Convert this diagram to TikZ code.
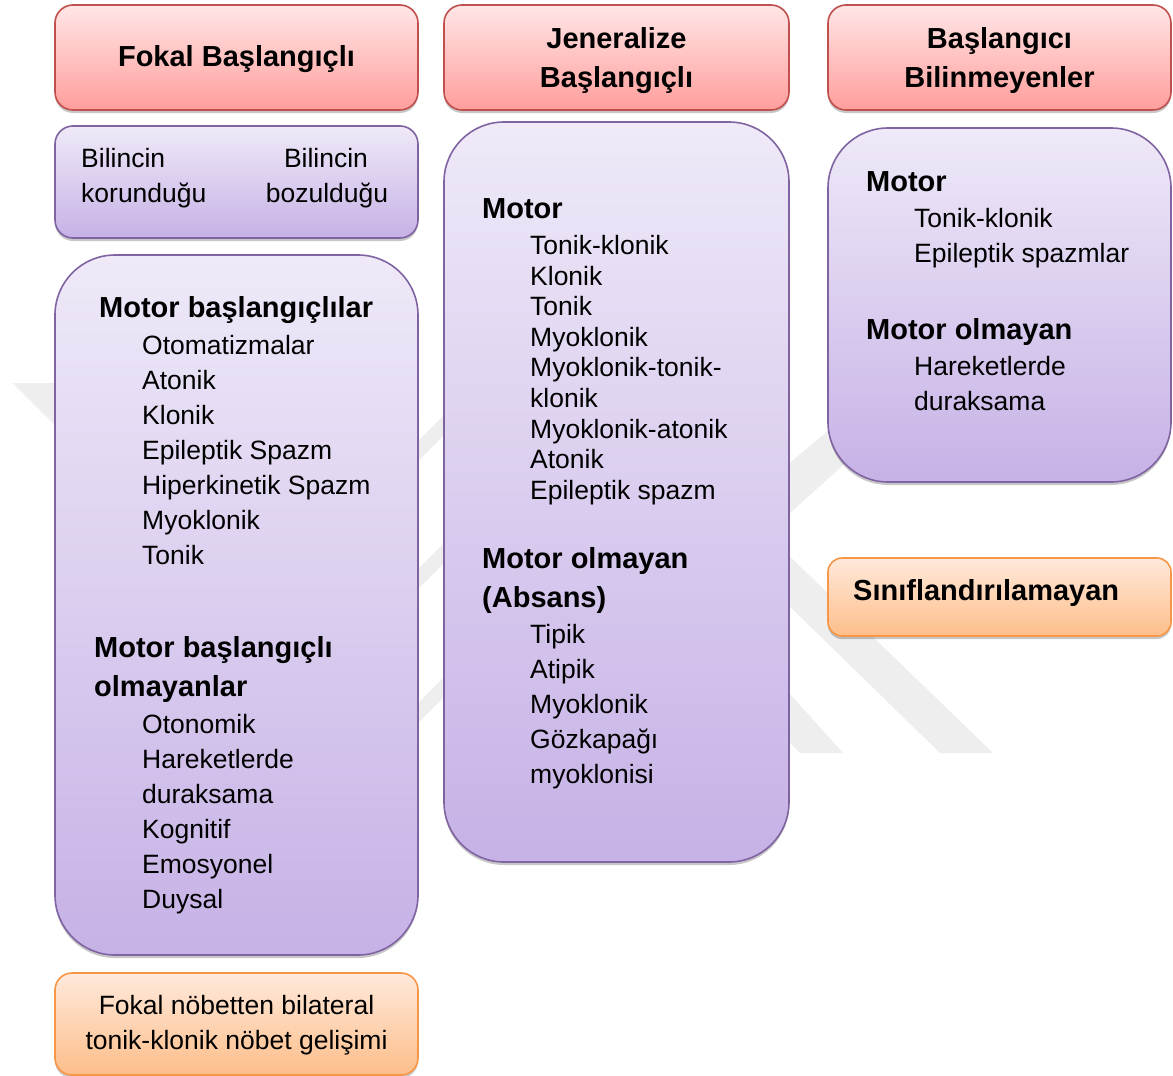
\documentclass[tikz,border=0pt]{standalone}
\usepackage{fontspec}
\setmainfont{Liberation Sans}
\usetikzlibrary{shadows}

\definecolor{redline}{HTML}{C0504D}
\definecolor{redtop}{HTML}{FFE6E6}
\definecolor{redbot}{HTML}{FF9E9C}
\definecolor{purline}{HTML}{8064A2}
\definecolor{purtop}{HTML}{EFE9F8}
\definecolor{purbot}{HTML}{C6B2E6}
\definecolor{orgline}{HTML}{F79646}
\definecolor{orgtop}{HTML}{FFE9DB}
\definecolor{orgbot}{HTML}{FDBE8A}
\definecolor{wmark}{HTML}{EEEEEE}

\tikzset{
  card/.style={rectangle, inner sep=0pt, outer sep=0pt, line width=1.6pt,
    drop shadow={shadow xshift=0pt, shadow yshift=-3pt, opacity=0.22, fill=black}},
  hdrbox/.style={card, draw=redline, top color=redtop, bottom color=redbot, rounded corners=18pt},
  purbox/.style={card, draw=purline, top color=purtop, bottom color=purbot},
  orgbox/.style={card, draw=orgline, top color=orgtop, bottom color=orgbot},
  ttl/.style={font=\fontsize{29}{39}\selectfont\bfseries, inner sep=0pt, anchor=base},
  sec/.style={font=\fontsize{29}{39}\selectfont\bfseries, inner sep=0pt, anchor=base west},
  itm/.style={font=\fontsize{26.5}{35}\selectfont, inner sep=0pt, anchor=base west},
}

\begin{document}
\begin{tikzpicture}[x=1pt, y=-1pt]
\useasboundingbox[fill=white] (0,0) rectangle (1173,1076);

% faint background emblem
\fill[wmark] (13,383) -- (200,383) -- (200,570) -- cycle;
\fill[wmark] (410,449) -- (410,469) -- (452,427) -- (452,407) -- cycle;
\fill[wmark] (410,577) -- (410,597) -- (452,555) -- (452,535) -- cycle;
\fill[wmark] (410,711) -- (410,731) -- (452,689) -- (452,669) -- cycle;
\fill[wmark] (780,471) -- (780,522) -- (860,450) -- (860,404) -- cycle;
\fill[wmark] (780,547) -- (993,753) -- (940,753) -- (780,597) -- cycle;
\fill[wmark] (780,683) -- (843,753) -- (800,753) -- (780,733) -- cycle;

% ---- column 1: focal onset
\node[hdrbox, minimum width=363pt, minimum height=105pt] (h1) at (236.5,57.5) {};
\node[purbox, rounded corners=18pt, minimum width=363pt, minimum height=112pt] (b1) at (236.5,182) {};
\node[purbox, rounded corners=60pt, minimum width=363pt, minimum height=700pt] (f1) at (236.5,605) {};
\node[orgbox, rounded corners=17pt, minimum width=363pt, minimum height=102pt] (o1) at (236.5,1024) {};

\node[ttl] (h1t) at (236.5,66) {Fokal Başlangıçlı};
\node[itm] (b1a) at (81,167.5) {Bilincin};
\node[itm] (b1b) at (81,202.5) {korunduğu};
\node[itm, anchor=base] (b2a) at (326,167.5) {Bilincin};
\node[itm, anchor=base] (b2b) at (327,202.5) {bozulduğu};

\node[sec] (s1) at (99,317) {Motor başlangıçlılar};
\foreach \t [count=\i from 0] in {Otomatizmalar,Atonik,Klonik,Epileptik Spazm,Hiperkinetik Spazm,Myoklonik,Tonik}
  \node[itm] (fa\i) at (142,{354.5+35*\i}) {\t};
\node[sec] (s2) at (94,657) {Motor başlangıçlı};
\node[sec] (s2b) at (94,696) {olmayanlar};
\foreach \t [count=\i from 0] in {Otonomik,Hareketlerde,duraksama,Kognitif,Emosyonel,Duysal}
  \node[itm] (fb\i) at (142,{733.5+35*\i}) {\t};

\node[itm, anchor=base] (o1a) at (236.5,1014.5) {Fokal nöbetten bilateral};
\node[itm, anchor=base] (o1b) at (236.5,1049.5) {tonik-klonik nöbet gelişimi};

% ---- column 2: generalized onset
\node[hdrbox, minimum width=345pt, minimum height=105pt] (h2) at (616.5,57.5) {};
\node[purbox, rounded corners=60pt, minimum width=345pt, minimum height=740pt] (g0) at (616.5,492) {};

\node[ttl] (h2a) at (616.5,48.5) {Jeneralize};
\node[ttl] (h2b) at (616.5,87.5) {Başlangıçlı};

\node[sec] (g1) at (482,218) {Motor};
\foreach \t [count=\i from 0] in {Tonik-klonik,Klonik,Tonik,Myoklonik,Myoklonik-tonik-,klonik,Myoklonik-atonik,Atonik,Epileptik spazm}
  \node[itm] (ga\i) at (530,{254.5+30.6*\i}) {\t};
\node[sec] (g2) at (482,568) {Motor olmayan};
\node[sec] (g2b) at (482,607) {(Absans)};
\foreach \t [count=\i from 0] in {Tipik,Atipik,Myoklonik,Gözkapağı,myoklonisi}
  \node[itm] (gb\i) at (530,{643.5+35*\i}) {\t};

% ---- column 3: unknown onset
\node[hdrbox, minimum width=343pt, minimum height=105pt] (h3) at (999.5,57.5) {};
\node[purbox, rounded corners=60pt, minimum width=343pt, minimum height=354pt] (u0) at (999.5,305) {};
\node[orgbox, rounded corners=14pt, minimum width=343pt, minimum height=78pt] (o2) at (999.5,597) {};

\node[ttl] (h3a) at (999.5,48.5) {Başlangıcı};
\node[ttl] (h3b) at (999.5,87.5) {Bilinmeyenler};

\node[sec] (u1) at (866,191) {Motor};
\foreach \t [count=\i from 0] in {Tonik-klonik,Epileptik spazmlar}
  \node[itm] (ua\i) at (914,{227.5+35*\i}) {\t};
\node[sec] (u2) at (866,339) {Motor olmayan};
\foreach \t [count=\i from 0] in {Hareketlerde,duraksama}
  \node[itm] (ub\i) at (914,{375.5+35*\i}) {\t};

\node[sec] (o2t) at (853,600) {Sınıflandırılamayan};
\end{tikzpicture}
\end{document}
